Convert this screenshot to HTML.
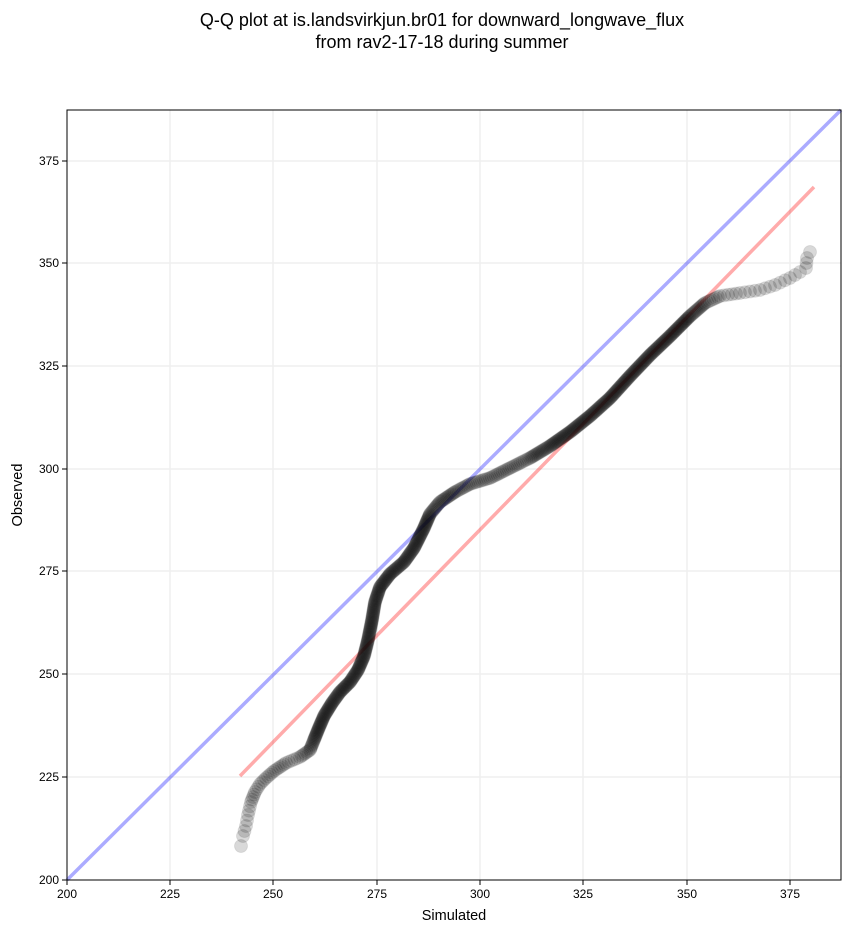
<!DOCTYPE html>
<html><head><meta charset="utf-8"><style>
body{margin:0;background:#fff;}
svg text{font-family:"Liberation Sans","DejaVu Sans",sans-serif;fill:#000;}
</style></head><body>
<svg id="s" width="851" height="934" xmlns="http://www.w3.org/2000/svg">
<rect width="851" height="934" fill="#fff"/>
<text x="442" y="26" font-size="18" text-anchor="middle">Q-Q plot at is.landsvirkjun.br01 for downward_longwave_flux</text>
<text x="442" y="48" font-size="18" text-anchor="middle">from rav2-17-18 during summer</text>
<g stroke="#efefef" stroke-width="1.5">
<line x1="170" y1="110" x2="170" y2="880"/><line x1="273" y1="110" x2="273" y2="880"/>
<line x1="377" y1="110" x2="377" y2="880"/><line x1="480" y1="110" x2="480" y2="880"/>
<line x1="583" y1="110" x2="583" y2="880"/><line x1="687" y1="110" x2="687" y2="880"/>
<line x1="790" y1="110" x2="790" y2="880"/>
<line x1="67" y1="777" x2="841" y2="777"/><line x1="67" y1="674" x2="841" y2="674"/>
<line x1="67" y1="571" x2="841" y2="571"/><line x1="67" y1="469" x2="841" y2="469"/>
<line x1="67" y1="366" x2="841" y2="366"/><line x1="67" y1="263" x2="841" y2="263"/>
<line x1="67" y1="161" x2="841" y2="161"/>
</g>
<line x1="67" y1="880" x2="841" y2="110" stroke="#0000ff" stroke-opacity="0.33" stroke-width="3.5"/>
<line x1="240" y1="776" x2="814" y2="187" stroke="#ff0000" stroke-opacity="0.33" stroke-width="3.5"/>
<g id="pts"></g>
<rect x="67" y="110" width="774" height="770" fill="none" stroke="#000" stroke-width="1"/>
<g font-size="12" text-anchor="middle">
<g stroke="#000"><line x1="67" y1="880" x2="67" y2="885"/><line x1="170" y1="880" x2="170" y2="885"/><line x1="273" y1="880" x2="273" y2="885"/><line x1="377" y1="880" x2="377" y2="885"/><line x1="480" y1="880" x2="480" y2="885"/><line x1="583" y1="880" x2="583" y2="885"/><line x1="687" y1="880" x2="687" y2="885"/><line x1="790" y1="880" x2="790" y2="885"/></g>
<text x="67" y="898">200</text><text x="170" y="898">225</text><text x="273" y="898">250</text><text x="377" y="898">275</text><text x="480" y="898">300</text><text x="583" y="898">325</text><text x="687" y="898">350</text><text x="790" y="898">375</text>
</g>
<g font-size="12" text-anchor="end">
<g stroke="#000"><line x1="62" y1="880" x2="67" y2="880"/><line x1="62" y1="777" x2="67" y2="777"/><line x1="62" y1="674" x2="67" y2="674"/><line x1="62" y1="571" x2="67" y2="571"/><line x1="62" y1="469" x2="67" y2="469"/><line x1="62" y1="366" x2="67" y2="366"/><line x1="62" y1="263" x2="67" y2="263"/><line x1="62" y1="161" x2="67" y2="161"/></g>
<text x="59" y="884">200</text><text x="59" y="781">225</text><text x="59" y="678">250</text><text x="59" y="575">275</text><text x="59" y="473">300</text><text x="59" y="370">325</text><text x="59" y="267">350</text><text x="59" y="165">375</text>
</g>
<text x="454" y="920" font-size="14.5" text-anchor="middle">Simulated</text>
<text x="22" y="495" font-size="14.5" text-anchor="middle" transform="rotate(-90 22 495)">Observed</text>
</svg>
<script>
var P=[[241,846,7],[243,836,6],[246,826,5],[248,815,4],[251,802,3],[255,792,3],[260,784,2.5],[266,778,2.5],[274,771,2.5],[286,763,3],[300,757,2],[310,750,1.5],[314,740,1.2],[318,730,1.2],[324,716,1.2],[332,703,1.2],[340,692,1.2],[350,682,1.2],[358,670,1.2],[364,656,1.2],[368,640,1.2],[372,620,1.2],[375,602,1.2],[380,587,1.2],[390,574,1.2],[404,562,1.2],[414,548,1.2],[424,528,1.2],[430,514,1.5],[440,502,1.5],[455,492,2],[470,484,2],[490,478,2],[510,468,2],[530,458,1.5],[550,446,1.2],[570,432,1.2],[590,416,1.2],[610,398,1.2],[630,376,1.2],[650,355,1.2],[670,336,1.2],[690,316,1.5],[705,303,2.5],[720,296,4],[740,293,5],[760,290,6],[775,285,6],[790,278,6],[800,272,6],[806,268,6],[807,258,5],[810,252,5],[813,246,5]];
var g=document.getElementById('pts'),h='';
for(var i=0;i<P.length-1;i++){var a=P[i],b=P[i+1],d=Math.hypot(b[0]-a[0],b[1]-a[1]),sp=a[2],n=Math.max(1,Math.round(d/sp));
for(var k=0;k<n;k++){var t=k/n;h+='<circle cx="'+(a[0]+(b[0]-a[0])*t).toFixed(1)+'" cy="'+(a[1]+(b[1]-a[1])*t).toFixed(1)+'" r="6.5" fill="#000" fill-opacity="0.15" stroke="#000" stroke-opacity="0.08"/>';}}
g.innerHTML=h;
</script>
</body></html>
